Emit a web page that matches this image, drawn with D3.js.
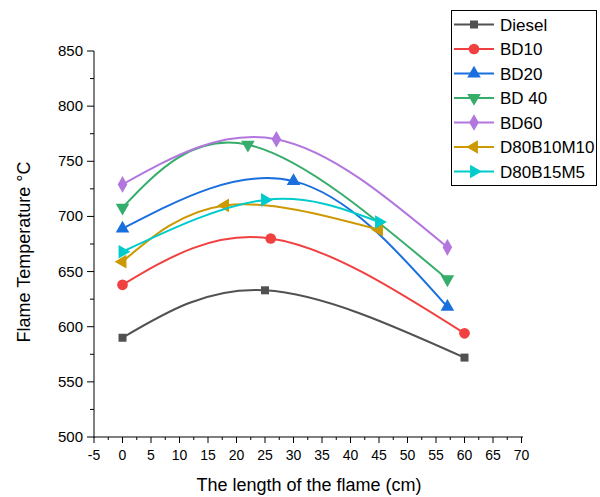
<!DOCTYPE html>
<html><head><meta charset="utf-8">
<script src="https://cdn.jsdelivr.net/npm/d3@7"></script>
<style>body{margin:0;background:#fff;font-family:Arial,"Liberation Sans",sans-serif;}</style>
</head><body>
<svg id="c" width="600" height="497"></svg>
<script>
const seriesNames = ["Diesel","BD10","BD20","BD 40","BD60","D80B10M10","D80B15M5"];
const seriesX = [
  [0,25,60],
  [0,26,60],
  [0,30,57],
  [0,22,57],
  [0,27,57],
  [0,18,45],
  [0,25,45]
];
const seriesY = [
  [590,633,572],
  [638,680,594],
  [689,732,618],
  [708,765,643],
  [729,770,672],
  [659,710,688],
  [668,715,695]
];
const colors = ["#515151","#F14040","#1A6FDF","#37AD6B","#B177DE","#CC9900","#00CBCC"];
const symbols = ["square","circle","triangle","triangleDown","diamond","triangleLeft","triangleRight"];
const xTicks = d3.range(-5,71,5);
const yTicks = d3.range(500,851,50);

const svg = d3.select("#c");
const x = d3.scaleLinear().domain([-5,70]).range([94,521.5]);
const y = d3.scaleLinear().domain([500,850]).range([437,51]);

// axes
const gx = svg.append("g").attr("transform","translate(0,437)");
gx.append("line").attr("x1",94).attr("x2",523).attr("stroke","#000");
xTicks.forEach(t=>{
  gx.append("line").attr("x1",x(t)).attr("x2",x(t)).attr("y1",0).attr("y2",6).attr("stroke","#000");
  gx.append("text").attr("x",x(t)).attr("y",23).attr("text-anchor","middle").attr("font-size",14).text(t);
});
d3.range(-2.5,70,5).forEach(t=>{
  gx.append("line").attr("x1",x(t)).attr("x2",x(t)).attr("y1",0).attr("y2",3).attr("stroke","#000");
});
const gy = svg.append("g").attr("transform","translate(94,0)");
gy.append("line").attr("y1",51).attr("y2",438).attr("stroke","#000");
yTicks.forEach(t=>{
  gy.append("line").attr("x1",-7).attr("x2",0).attr("y1",y(t)).attr("y2",y(t)).attr("stroke","#000");
  gy.append("text").attr("x",-11).attr("y",y(t)+5).attr("text-anchor","end").attr("font-size",15).text(t);
});
d3.range(525,850,50).forEach(t=>{
  gy.append("line").attr("x1",-4).attr("x2",0).attr("y1",y(t)).attr("y2",y(t)).attr("stroke","#000");
});

svg.append("text").attr("x",309).attr("y",491).attr("text-anchor","middle").attr("font-size",18).text("The length of the flame (cm)");
svg.append("text").attr("transform","translate(30,252) rotate(-90)").attr("text-anchor","middle").attr("font-size",18).text("Flame Temperature °C");

const symMap = {square:[d3.symbolSquare,64],circle:[d3.symbolCircle,90],triangle:[d3.symbolTriangle,80],
  triangleDown:[d3.symbolTriangle,80,180],diamond:[d3.symbolDiamond,80],triangleLeft:[d3.symbolTriangle,80,-90],triangleRight:[d3.symbolTriangle,80,90]};
function sym(g,k,cx,cy,col){
  const s=symMap[k];
  g.append("path").attr("d",d3.symbol().type(s[0]).size(s[1])())
   .attr("transform",`translate(${cx},${cy}) rotate(${s[2]||0})`).attr("fill",col);
}

const line = d3.line().x(d=>x(d[0])).y(d=>y(d[1])).curve(d3.curveNatural);
seriesNames.forEach((n,i)=>{
  const pts = seriesX[i].map((v,j)=>[v,seriesY[i][j]]);
  const g = svg.append("g");
  g.append("path").attr("d",line(pts)).attr("fill","none").attr("stroke",colors[i]).attr("stroke-width",2);
  pts.forEach(p=>sym(g,symbols[i],x(p[0]),y(p[1]),colors[i]));
});

// legend
const lg = svg.append("g");
lg.append("rect").attr("x",451.5).attr("y",10.5).attr("width",145).attr("height",175).attr("fill","#fff").attr("stroke","#000");
seriesNames.forEach((n,i)=>{
  const yy = 24.5 + i*24.5;
  lg.append("line").attr("x1",454).attr("x2",494).attr("y1",yy).attr("y2",yy).attr("stroke",colors[i]).attr("stroke-width",2);
  sym(lg,symbols[i],474,yy,colors[i]);
  lg.append("text").attr("x",500).attr("y",yy+6).attr("font-size",17).text(n);
});
</script>
</body></html>
